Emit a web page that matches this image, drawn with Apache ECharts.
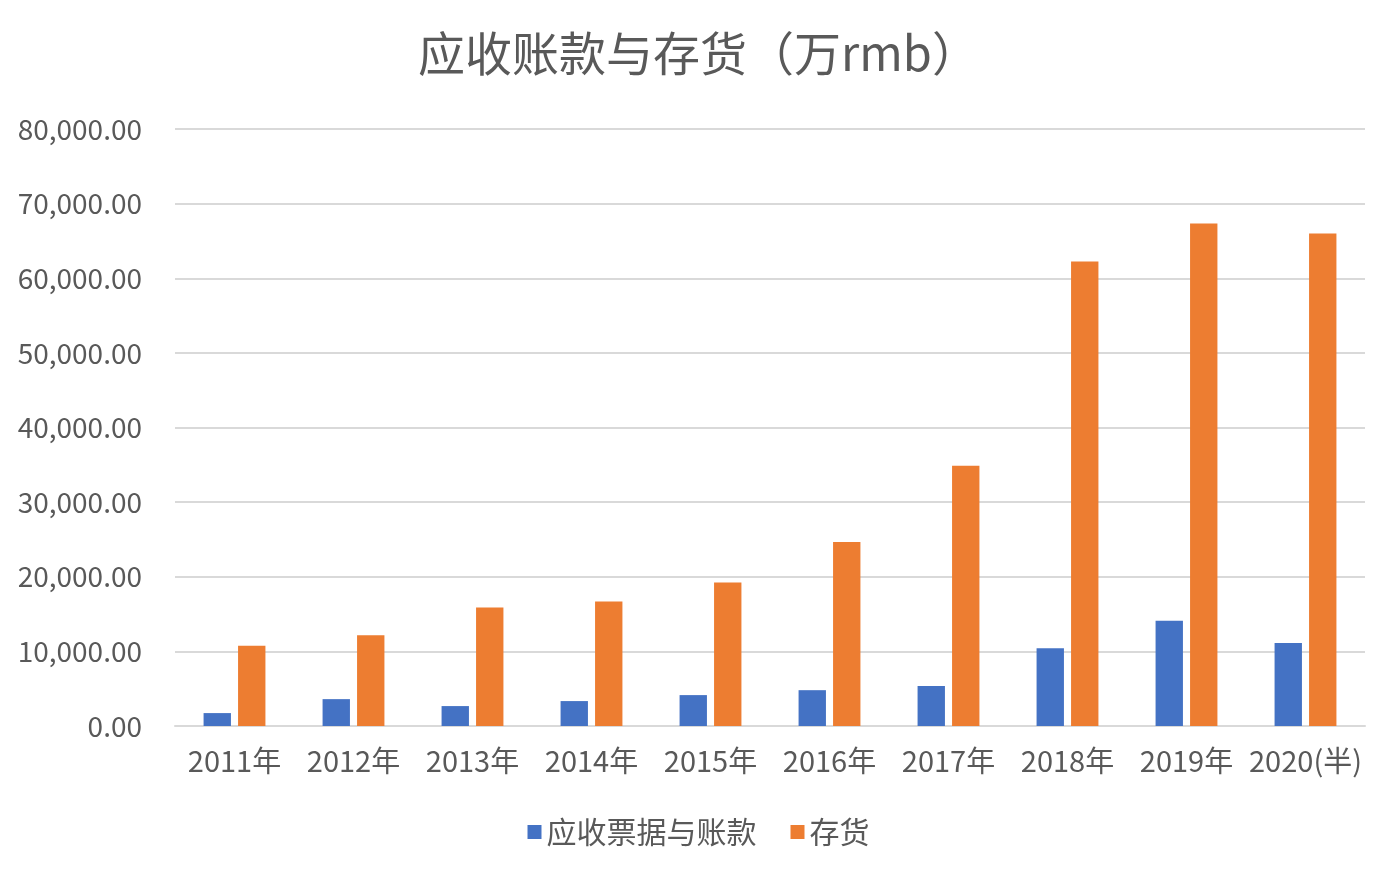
<!DOCTYPE html>
<html>
<head>
<meta charset="utf-8">
<title>应收账款与存货</title>
<script src="https://cdn.jsdelivr.net/npm/echarts@6/dist/echarts.min.js"></script>
<style>
  html, body { margin: 0; padding: 0; background: #fff; }
  #chart { width: 1397px; height: 878px; }
</style>
</head>
<body>
<div id="chart"></div>
<script>
// data (万rmb)
var years = ['2011年', '2012年', '2013年', '2014年', '2015年', '2016年', '2017年', '2018年', '2019年', '2020(半)'];
var receivables = [1730, 3600, 2670, 3340, 4140, 4800, 5350, 10420, 14110, 11110];
var inventory = [10760, 12150, 15870, 16680, 19220, 24670, 34860, 62250, 67330, 65990];
var yTicks = [0, 10000, 20000, 30000, 40000, 50000, 60000, 70000, 80000];

var textColor = '#595959';
var font = '"Noto Sans CJK SC", "Noto Sans", sans-serif';

var chart = echarts.init(document.getElementById('chart'));

function fmt(v) {
  return v.toLocaleString('en-US', { minimumFractionDigits: 2, maximumFractionDigits: 2 });
}

var option = {
  backgroundColor: '#fff',
  animation: false,
  title: {
    text: '应收账款与存货（万rmb）',
    left: 'center',
    top: 25,
    textStyle: { color: textColor, fontSize: 47, fontWeight: 'normal', fontFamily: font }
  },
  legend: {
    bottom: 26,
    left: 'center',
    itemWidth: 14,
    itemHeight: 14,
    itemGap: 34,
    icon: 'rect',
    textStyle: { color: textColor, fontSize: 30, fontFamily: font },
    data: ['应收票据与账款', '存货']
  },
  grid: { left: 175, right: 32, top: 129, bottom: 152 },
  xAxis: {
    type: 'category',
    data: years,
    axisTick: { show: false },
    axisLine: { lineStyle: { color: '#d9d9d9', width: 2 } },
    axisLabel: { color: textColor, fontSize: 29, fontFamily: font, margin: 20, interval: 0 }
  },
  yAxis: {
    type: 'value',
    min: yTicks[0],
    max: yTicks[yTicks.length - 1],
    interval: yTicks[1] - yTicks[0],
    axisLine: { show: false },
    axisTick: { show: false },
    splitLine: { lineStyle: { color: '#d9d9d9', width: 2 } },
    axisLabel: { color: textColor, fontSize: 28, fontFamily: font, margin: 33, formatter: fmt }
  },
  series: [
    {
      name: '应收票据与账款',
      type: 'bar',
      data: receivables,
      barWidth: '23%',
      barGap: '26%',
      itemStyle: { color: '#4472c4' }
    },
    {
      name: '存货',
      type: 'bar',
      data: inventory,
      barWidth: '23%',
      itemStyle: { color: '#ed7d31' }
    }
  ]
};

chart.setOption(option);
</script>
</body>
</html>
